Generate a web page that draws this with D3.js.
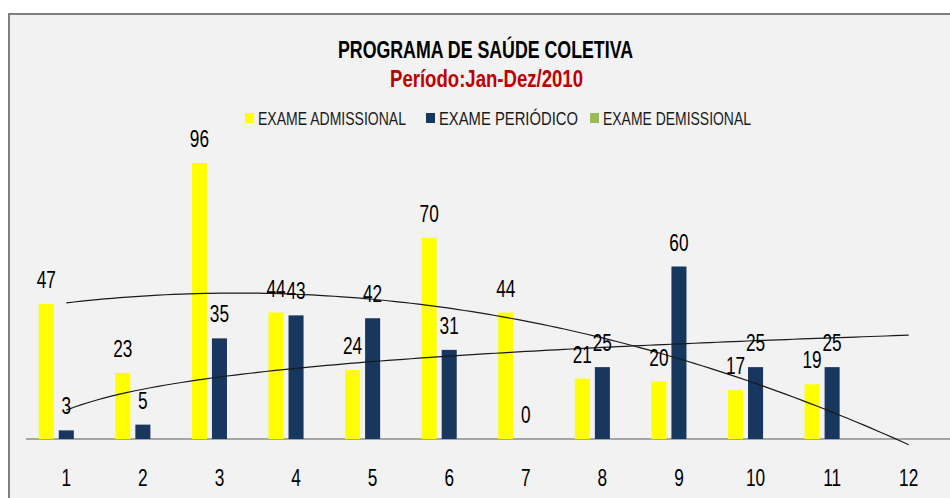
<!DOCTYPE html>
<html>
<head>
<meta charset="utf-8">
<script src="https://cdn.jsdelivr.net/npm/d3@7"></script>
<style>
  html, body { margin: 0; padding: 0; background: #fff; }
  svg { display: block; }
</style>
</head>
<body>
<div id="grafico"></div>
<script>
// Programa de Saúde Coletiva — exames por mês, 2010
const categorias = ['1', '2', '3', '4', '5', '6', '7', '8', '9', '10', '11', '12'];
const admissional = [47, 23, 96, 44, 24, 70, 44, 21, 20, 17, 19, null];
const periodico = [3, 5, 35, 43, 42, 31, 0, 25, 60, 25, 25, null];
const demissional = [null, null, null, null, null, null, null, null, null, null, null, null];
const nomesSeries = ['EXAME ADMISSIONAL', 'EXAME PERIÓDICO', 'EXAME DEMISSIONAL'];
const titulo = 'PROGRAMA DE SAÚDE COLETIVA';
const subtitulo = 'Período:Jan-Dez/2010';

(function () {
  const W = 950;
  const H = 498;
  const CORES = ['#FFFF00', '#17375E', '#9BBB59'];
  const FUNDO = '#F2F2F2';
  const FONTE = '"Liberation Sans", Arial, sans-serif';
  const ESTREITO = 0.75; // fonte do original é condensada

  const series = [admissional, periodico, demissional];

  const svg = d3.select('#grafico').append('svg')
    .attr('width', W).attr('height', H);

  svg.append('rect').attr('width', W).attr('height', H).attr('fill', '#fff');

  // moldura do gráfico (corta à direita e embaixo)
  svg.append('rect')
    .attr('x', 9).attr('y', 14)
    .attr('width', W + 20).attr('height', H + 20)
    .attr('fill', FUNDO)
    .attr('stroke', '#808080')
    .attr('stroke-width', 2);

  // títulos
  svg.append('text')
    .attr('x', 338).attr('y', 58)
    .attr('textLength', 295).attr('lengthAdjust', 'spacingAndGlyphs')
    .attr('font-family', FONTE).attr('font-size', 23).attr('font-weight', 'bold')
    .attr('fill', '#000')
    .text(titulo);

  svg.append('text')
    .attr('x', 390).attr('y', 87)
    .attr('textLength', 193).attr('lengthAdjust', 'spacingAndGlyphs')
    .attr('font-family', FONTE).attr('font-size', 23).attr('font-weight', 'bold')
    .attr('fill', '#C00000')
    .text(subtitulo);

  // legenda
  const legendaX = [245, 426, 590];
  const legendaLarg = [148, 139, 148];
  const legenda = svg.append('g').attr('class', 'legenda');
  nomesSeries.forEach((nome, i) => {
    legenda.append('rect')
      .attr('x', legendaX[i]).attr('y', 113)
      .attr('width', 9).attr('height', 10)
      .attr('fill', CORES[i]);
    legenda.append('text')
      .attr('x', legendaX[i] + 13).attr('y', 125)
      .attr('textLength', legendaLarg[i]).attr('lengthAdjust', 'spacingAndGlyphs')
      .attr('font-family', FONTE).attr('font-size', 18)
      .attr('fill', '#1a1a1a')
      .text(nome);
  });

  // escalas
  const x = d3.scaleBand()
    .domain(categorias)
    .range([28, 947])
    .paddingInner(0.28)
    .paddingOuter(0.14);

  const xSerie = d3.scaleBand()
    .domain(d3.range(series.length))
    .range([0, x.bandwidth()])
    .paddingInner(0.25);

  const y = d3.scaleLinear().domain([0, 100]).range([439, 151.5]);

  const centro = (c) => x(c) + x.bandwidth() / 2;

  // eixo de categorias
  const eixo = svg.append('g')
    .attr('transform', `translate(0,${y(0)})`)
    .call(d3.axisBottom(x).tickSize(0).tickPadding(0));
  eixo.select('.domain').remove();
  eixo.selectAll('.tick text').remove();
  eixo.selectAll('.tick').append('text')
    .attr('transform', `translate(0,47) scale(${ESTREITO},1)`)
    .attr('text-anchor', 'middle')
    .attr('font-family', FONTE).attr('font-size', 23)
    .attr('fill', '#000')
    .text((d) => d);

  svg.append('line')
    .attr('x1', 26).attr('x2', W)
    .attr('y1', y(0)).attr('y2', y(0))
    .attr('stroke', '#8C8C8C').attr('stroke-width', 1.5);

  // barras
  const camadaBarras = svg.append('g').attr('class', 'barras');
  series.forEach((valores, s) => {
    const pontos = valores
      .map((v, i) => ({ cat: categorias[i], v }))
      .filter((d) => d.v != null);

    camadaBarras.selectAll(`rect.s${s}`)
      .data(pontos)
      .join('rect')
      .attr('class', `s${s}`)
      .attr('x', (d) => x(d.cat) + xSerie(s))
      .attr('width', xSerie.bandwidth())
      .attr('y', (d) => y(d.v))
      .attr('height', (d) => y(0) - y(d.v))
      .attr('fill', CORES[s]);
  });

  // linhas de tendência (como no Excel: polinomial 2 e logarítmica)
  function ajustePolinomial2(valores) {
    const pts = valores.map((v, i) => [i + 1, v]).filter((p) => p[1] != null);
    const S = (f) => d3.sum(pts, f);
    const n = pts.length;
    const sx = S((p) => p[0]);
    const sx2 = S((p) => p[0] ** 2);
    const sx3 = S((p) => p[0] ** 3);
    const sx4 = S((p) => p[0] ** 4);
    const sy = S((p) => p[1]);
    const sxy = S((p) => p[0] * p[1]);
    const sx2y = S((p) => p[0] ** 2 * p[1]);
    const M = [
      [n, sx, sx2, sy],
      [sx, sx2, sx3, sxy],
      [sx2, sx3, sx4, sx2y],
    ];
    for (let i = 0; i < 3; i++) {
      for (let k = i + 1; k < 3; k++) {
        const f = M[k][i] / M[i][i];
        for (let j = i; j < 4; j++) M[k][j] -= f * M[i][j];
      }
    }
    const c = [0, 0, 0];
    for (let i = 2; i >= 0; i--) {
      let s = M[i][3];
      for (let j = i + 1; j < 3; j++) s -= M[i][j] * c[j];
      c[i] = s / M[i][i];
    }
    return (t) => c[0] + c[1] * t + c[2] * t * t;
  }

  function ajusteLogaritmico(valores) {
    const pts = valores.map((v, i) => [Math.log(i + 1), v]).filter((p) => p[1] != null);
    const mx = d3.mean(pts, (p) => p[0]);
    const my = d3.mean(pts, (p) => p[1]);
    const b = d3.sum(pts, (p) => (p[0] - mx) * (p[1] - my)) /
      d3.sum(pts, (p) => (p[0] - mx) ** 2);
    const a = my - b * mx;
    return (t) => a + b * Math.log(t);
  }

  const xTend = d3.scaleLinear()
    .domain([1, categorias.length])
    .range([centro(categorias[0]), centro(categorias[categorias.length - 1])]);

  const amostras = d3.range(1, categorias.length + 0.001, 0.1);
  const linha = d3.line()
    .x((d) => xTend(d[0]))
    .y((d) => y(d[1]));

  [ajustePolinomial2(admissional), ajusteLogaritmico(periodico)].forEach((f) => {
    svg.append('path')
      .datum(amostras.map((t) => [t, f(t)]))
      .attr('d', linha)
      .attr('fill', 'none')
      .attr('stroke', '#1a1a1a')
      .attr('stroke-width', 1.2);
  });

  // rótulos de valores
  const camadaRotulos = svg.append('g').attr('class', 'rotulos');
  series.forEach((valores, s) => {
    valores.forEach((v, i) => {
      if (v == null) return;
      const cx = x(categorias[i]) + xSerie(s) + xSerie.bandwidth() / 2;
      camadaRotulos.append('text')
        .attr('transform', `translate(${cx},${y(v) - 16}) scale(${ESTREITO},1)`)
        .attr('text-anchor', 'middle')
        .attr('font-family', FONTE).attr('font-size', 23)
        .attr('fill', '#000')
        .text(v);
    });
  });
})();
</script>
</body>
</html>
